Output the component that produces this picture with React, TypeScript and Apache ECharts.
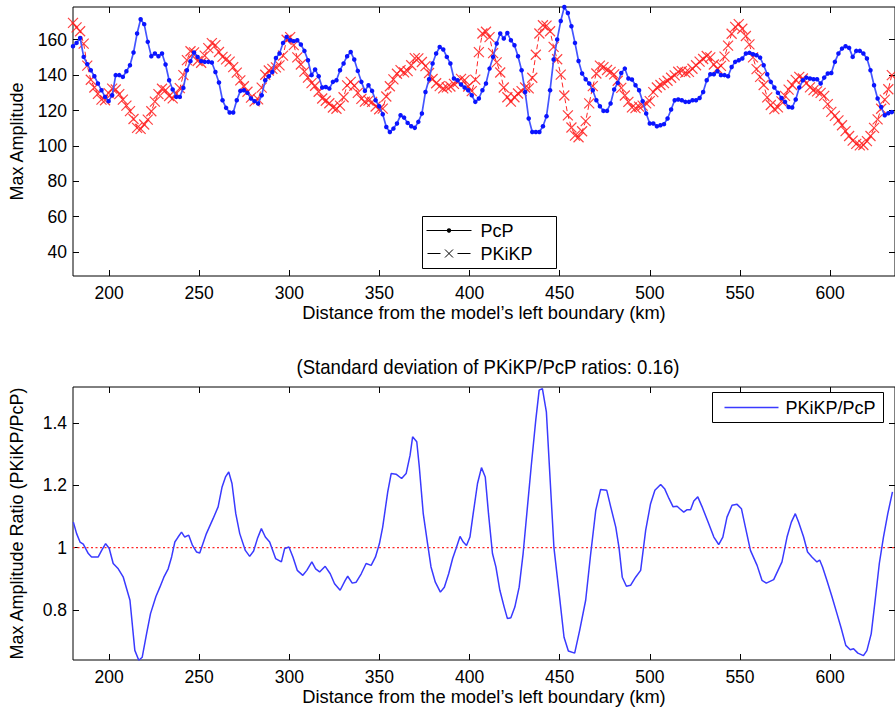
import React, { useEffect, useRef } from "react";
import * as echarts from "echarts";

// Sampling grid of the two traces (km from the model's left boundary)
const KM_START = 180;
const KM_STEP = 1.975;

// PcP maximum amplitude (blue, dots)
const PCP = [
  156.3, 158.2, 161.0, 150.3, 146.2, 142.8, 139.4, 135.3, 131.5, 127.7,
  125.3, 128.6, 140.0, 140.0, 139.0, 142.2, 145.6, 152.8, 163.5, 171.6,
  168.8, 158.8, 150.7, 152.2, 150.7, 152.2, 146.0, 137.1, 131.9, 127.7,
  127.7, 132.8, 142.8, 147.9, 152.8, 150.3, 147.9, 147.5, 147.5, 147.1,
  141.8, 135.8, 125.8, 121.5, 118.9, 118.9, 125.8, 131.1, 131.5, 130.0,
  126.8, 125.3, 124.0, 128.6, 137.1, 139.4, 141.8, 149.7, 152.2,
  158.2, 161.6, 159.7, 159.2, 159.7, 157.3, 153.7, 148.4, 140.0, 143.2,
  139.4, 133.0, 133.3, 132.4, 136.2, 137.1, 142.8, 146.6, 150.7, 153.1,
  148.8, 142.4, 136.2, 131.1, 134.3, 131.1, 125.8, 122.4, 117.9, 110.7,
  107.9, 109.8, 112.7, 117.3, 116.0, 113.0, 111.1, 110.2, 113.6, 118.3,
  130.5, 137.7, 146.6, 152.2, 155.9, 154.5, 150.3, 146.6, 138.1, 137.1,
  134.7, 133.0, 131.5, 128.6, 124.9, 126.8, 131.5, 135.3,
  143.7, 150.3, 157.9, 163.5, 160.7, 163.8, 159.7, 156.9, 150.7, 142.8,
  130.5, 115.5, 107.9, 107.9, 107.9, 111.1, 116.8, 131.5, 148.8, 160.1,
  170.6, 178.5, 175.1, 167.6, 158.2, 148.0, 140.9, 137.7, 135.3, 131.5,
  125.8, 122.4, 119.8, 119.8, 124.0, 131.9, 135.6, 141.2, 143.7, 138.1,
  137.5, 134.3, 131.5, 125.3, 118.3, 112.7, 112.7, 111.1, 111.7, 112.3,
  115.5, 120.6, 125.8, 126.2, 125.8, 124.9,
  124.9, 125.8, 125.8, 127.1, 130.5, 137.1, 140.5, 140.5, 142.2, 140.0,
  140.0, 139.4, 144.6, 147.5, 148.4, 149.4, 152.2, 152.6, 151.8, 151.2,
  149.9, 145.6, 140.5, 136.2, 133.0, 130.0, 127.1, 124.9, 122.0, 121.7,
  126.2, 133.0, 137.1, 138.6, 138.1, 137.7, 137.7, 135.3, 138.6, 140.9,
  141.2, 147.5, 152.2, 155.0, 156.3, 155.4, 150.3, 153.7, 153.7, 152.2,
  149.4, 142.8, 134.3, 126.8, 122.0, 117.3, 118.5, 119.1,
];

// PKiKP maximum amplitude (red, crosses)
const PKIKP = [
  169.5, 167.0, 164.8, 157.8, 145.4, 137.4, 133.0, 129.4, 126.2, 125.8,
  129.8, 132.4, 131.9, 129.3, 126.2, 122.8, 119.7, 115.2, 110.2, 109.6,
  112.1, 114.9, 119.6, 125.0, 129.3, 132.3, 131.5, 128.2, 126.9, 129.6,
  132.7, 140.0, 148.5, 153.5, 152.9, 148.0, 147.0, 151.0, 155.3, 158.1,
  157.0, 153.1, 150.3, 148.9, 147.6, 144.5, 141.4, 137.0, 133.7, 130.6,
  127.3, 125.2, 126.3, 132.9, 140.2, 142.6, 143.5, 144.4, 145.5,
  151.0, 160.0, 161.5, 157.0, 150.0, 146.0, 142.0, 138.6, 135.5, 134.0,
  130.6, 126.8, 125.5, 124.1, 121.7, 121.0, 122.8, 127.5, 134.2, 136.2,
  134.0, 130.0, 126.6, 125.0, 125.6, 124.9, 122.3, 120.7, 121.1, 127.9,
  133.7, 137.6, 140.8, 142.8, 141.6, 142.3, 145.6, 149.6, 149.5, 147.4,
  145.1, 141.2, 137.8, 135.4, 133.8, 132.5, 133.1, 133.6, 135.1, 136.1,
  137.9, 137.2, 133.6, 131.0, 137.5, 153.0, 163.5, 164.5,
  161.5, 152.4, 147.2, 141.5, 133.0, 127.5, 125.0, 127.5, 129.6, 131.0,
  133.0, 132.5, 138.5, 151.5, 163.5, 168.2, 168.0, 164.8, 156.0, 149.0,
  140.3, 128.5, 117.3, 110.4, 105.8, 104.9, 108.3, 114.0, 124.0, 133.8,
  140.9, 145.4, 144.5, 142.9, 141.8, 140.4, 136.8, 132.8, 128.5, 124.9,
  121.8, 121.4, 122.2, 122.8, 124.0, 125.3, 130.4, 133.0, 134.4, 135.5,
  136.8, 138.5, 139.9, 141.9, 142.3, 141.4,
  141.8, 143.6, 145.6, 147.6, 149.1, 150.8, 150.0, 146.0, 143.6, 145.2,
  150.5, 156.7, 163.4, 167.3, 168.8, 166.2, 162.1, 157.4, 150.0, 143.4,
  139.0, 134.4, 127.4, 123.1, 120.8, 121.8, 125.2, 128.3, 131.8, 134.4,
  137.3, 139.0, 138.1, 135.5, 133.1, 131.5, 130.8, 130.0, 128.3, 123.6,
  119.2, 117.0, 114.4, 111.7, 108.4, 105.6, 103.0, 101.2, 100.3, 100.5,
  102.7, 105.6, 110.2, 115.0, 121.0, 126.2, 132.0, 140.0,
];

// PKiKP/PcP ratio
const RATIO_KM = [
  180.2, 182, 183.9, 185.7, 188.5, 190.3, 194, 195.9, 198.1, 200.1,
  202.3, 205.1, 207.9, 211.6, 214.3, 216.5, 218.4, 220.8, 223, 226,
  228.2, 230.4, 232.8, 234.7, 236.5, 238.3, 240.2, 242, 244.2, 246.3,
  248.5, 250.3, 254, 257.7, 260.5, 262.7, 264.6, 266.4, 268.2, 270.3,
  272.5, 275.6, 278, 280.2, 282.3, 284.5, 286.7, 289.1, 292.4, 295.6,
  297.4, 299.8, 302, 304.4, 307.5, 309.7, 312.5, 314.6, 316.8, 319.9,
  322.7, 325.1, 328.2, 331, 332.4, 334.9, 337.1, 339.9, 342.6, 345.4,
  347.8, 350, 351.8, 354.6, 356.5, 359.2, 362.3, 364.8, 367, 368.4,
  370.7, 372.1, 374.3, 376.7, 378.6, 381, 383.8, 386, 388.4, 390.6,
  392.5, 394.7, 396.5, 398.3, 400.2, 402, 404.4, 406.6, 408.7, 410.5,
  412.7, 414.6, 416.8, 419.2, 421, 422.9, 425.1, 427.5, 429.7, 432.1,
  434.3, 436.7, 438.6, 440.4, 442.6, 444.5, 446.8, 449.7, 452.4, 454.8,
  458.3, 461.1, 464.4, 467.2, 470, 472.7, 476.1, 478.3, 481.1, 482.9,
  484.7, 487, 489.3, 492.1, 494.9, 497.7, 500.4, 502.8, 506, 508.3,
  510.6, 512.9, 515.1, 516.6, 518.8, 520.7, 522.6, 524.4, 526.6, 529,
  532.3, 535.5, 538.2, 540.5, 542.8, 545.6, 548.4, 550.8, 553, 555.8,
  559.5, 562.2, 564.6, 568.7, 571.1, 573.3, 576.1, 578.5, 580.7, 582.5,
  585.3, 587.5, 589.9, 592.7, 594.2, 595.8, 598.2, 601, 603.8, 606.2,
  608.7, 611.2, 613, 615.4, 618.5, 620.4, 622.8, 625, 627.3, 629.6,
  632, 634.6,
];
const RATIO = [
  1.082, 1.045, 1.018, 1.011, 0.981, 0.97, 0.97, 0.991, 1.013, 0.997,
  0.949, 0.932, 0.905, 0.831, 0.67, 0.638, 0.648, 0.723, 0.788, 0.843,
  0.873, 0.905, 0.932, 0.97, 1.018, 1.034, 1.05, 1.034, 1.04, 1.007,
  0.986, 0.983, 1.045, 1.093, 1.131, 1.195, 1.227, 1.243, 1.206, 1.109,
  1.045, 0.991, 0.972, 0.989, 1.029, 1.061, 1.034, 1.018, 0.965, 0.954,
  0.997, 1.002, 0.97, 0.927, 0.911, 0.927, 0.954, 0.932, 0.922, 0.94,
  0.916, 0.884, 0.863, 0.895, 0.908, 0.886, 0.889, 0.916, 0.949, 0.943,
  0.97, 1.013, 1.066, 1.179, 1.238, 1.236, 1.222, 1.238, 1.297, 1.356,
  1.34, 1.26, 1.109, 1.013, 0.938, 0.889, 0.857, 0.873, 0.916, 0.965,
  0.997, 1.036, 1.018, 1.007, 1.034, 1.109, 1.206, 1.257, 1.227, 1.109,
  0.981, 0.938, 0.863, 0.809, 0.772, 0.775, 0.809, 0.873, 0.981, 1.131,
  1.268, 1.409, 1.506, 1.511, 1.436, 1.238, 1.0, 0.852, 0.712, 0.668,
  0.661, 0.735, 0.831, 0.981, 1.12, 1.187, 1.184, 1.131, 1.066, 1.0,
  0.905, 0.876, 0.879, 0.905, 0.927, 1.056, 1.141, 1.184, 1.203, 1.188,
  1.158, 1.131, 1.133, 1.125, 1.114, 1.122, 1.122, 1.15, 1.163, 1.131,
  1.082, 1.034, 1.01, 1.034, 1.098, 1.136, 1.139, 1.125, 1.066, 0.991,
  0.943, 0.895, 0.886, 0.897, 0.927, 0.954, 1.034, 1.082, 1.109, 1.082,
  1.034, 0.986, 0.97, 0.954, 0.96, 0.938, 0.895, 0.843, 0.788, 0.74,
  0.686, 0.672, 0.675, 0.661, 0.653, 0.669, 0.723, 0.831, 0.949, 1.034,
  1.109, 1.179,
];

const X_TICKS = [200, 250, 300, 350, 400, 450, 500, 550, 600];
const AMP_TICKS = [40, 60, 80, 100, 120, 140, 160];
const RATIO_TICKS = [0.8, 1, 1.2, 1.4];
const REFERENCE_RATIO = 1;
const X_RANGE = [180, 636];

const X_NAME = "Distance from the model\u2019s left boundary (km)";
const FONT = "'Liberation Sans', Arial, Helvetica, sans-serif";

export default function App() {
  const ref = useRef<HTMLDivElement>(null);

  useEffect(() => {
    if (!ref.current) return;
    const chart = echarts.init(ref.current, undefined, { renderer: "svg" });

    const km = PCP.map((_, i) => +(KM_START + i * KM_STEP).toFixed(3));
    const pcpData = PCP.map((v, i) => [km[i], v]);
    const pkikpData = PKIKP.map((v, i) => [km[i], v]);
    const ratioData = RATIO.map((v, i) => [RATIO_KM[i], v]);
    const refData = X_RANGE.map((x) => [x, REFERENCE_RATIO]);

    const tickStyle = { color: "#000", width: 1 };
    const labelBase = { color: "#000", fontSize: 17.5, fontFamily: FONT };

    const xAxisFor = (gridIndex: number, withLabels: boolean) => ({
      type: "value",
      gridIndex,
      min: X_RANGE[0],
      max: X_RANGE[1],
      position: withLabels ? "bottom" : "top",
      axisLine: { show: false },
      axisTick: {
        show: true,
        inside: true,
        length: 6,
        customValues: X_TICKS,
        lineStyle: tickStyle,
      },
      axisLabel: withLabels
        ? { ...labelBase, customValues: X_TICKS, margin: 8 }
        : { show: false },
      splitLine: { show: false },
      name: withLabels ? X_NAME : "",
      nameLocation: "middle",
      nameGap: 27,
      nameTextStyle: { color: "#000", fontSize: 18.3, fontFamily: FONT },
    });

    const yAxisFor = (
      gridIndex: number,
      min: number,
      max: number,
      ticks: number[],
      withLabels: boolean,
      name: string,
      nameGap: number
    ) => ({
      type: "value",
      gridIndex,
      min,
      max,
      position: withLabels ? "left" : "right",
      axisLine: { show: false },
      axisTick: {
        show: true,
        inside: true,
        length: 6,
        customValues: ticks,
        lineStyle: tickStyle,
      },
      axisLabel: withLabels
        ? { ...labelBase, customValues: ticks, margin: 6 }
        : { show: false },
      splitLine: { show: false },
      name: withLabels ? name : "",
      nameLocation: "middle",
      nameRotate: 90,
      nameGap,
      nameTextStyle: { color: "#000", fontSize: 18, fontFamily: FONT },
    });

    const crossPath = "path://M0,0L10,10M10,0L0,10";

    chart.setOption({
      animation: false,
      backgroundColor: "#fff",
      grid: [
        {
          left: 73,
          top: 7,
          width: 823,
          height: 269,
          show: true,
          borderColor: "#000",
          borderWidth: 1,
          backgroundColor: "transparent",
        },
        {
          left: 73,
          top: 387,
          width: 823,
          height: 273,
          show: true,
          borderColor: "#000",
          borderWidth: 1,
          backgroundColor: "transparent",
        },
      ],
      xAxis: [
        xAxisFor(0, true),
        xAxisFor(0, false),
        xAxisFor(1, true),
        xAxisFor(1, false),
      ],
      yAxis: [
        yAxisFor(0, 26.5, 178.5, AMP_TICKS, true, "Max Amplitude", 47),
        yAxisFor(0, 26.5, 178.5, AMP_TICKS, false, "", 0),
        yAxisFor(1, 0.639, 1.516, RATIO_TICKS, true, "Max Amplitude Ratio (PKiKP/PcP)", 47),
        yAxisFor(1, 0.639, 1.516, RATIO_TICKS, false, "", 0),
      ],
      series: [
        {
          name: "PKiKP",
          type: "line",
          xAxisIndex: 0,
          yAxisIndex: 0,
          data: pkikpData,
          symbol: crossPath,
          symbolSize: 10,
          showAllSymbol: true,
          lineStyle: { color: "rgba(255,0,0,0.85)", width: 1, type: [5, 3] },
          itemStyle: {
            color: "rgba(255,0,0,0)",
            borderColor: "rgba(255,30,30,0.85)",
            borderWidth: 1.2,
          },
          z: 2,
        },
        {
          name: "PcP",
          type: "line",
          xAxisIndex: 0,
          yAxisIndex: 0,
          data: pcpData,
          symbol: "circle",
          symbolSize: 4.5,
          showAllSymbol: true,
          lineStyle: { color: "#4455ff", width: 1.7 },
          itemStyle: { color: "#0a14ff", borderWidth: 0 },
          z: 3,
        },
        {
          name: "ratio = 1",
          type: "line",
          xAxisIndex: 2,
          yAxisIndex: 2,
          data: refData,
          symbol: "none",
          silent: true,
          lineStyle: { color: "#ff2a2a", width: 1.2, type: [2, 2.5] },
          z: 2,
        },
        {
          name: "PKiKP/PcP",
          type: "line",
          xAxisIndex: 2,
          yAxisIndex: 2,
          data: ratioData,
          symbol: "none",
          lineStyle: { color: "#3a3aff", width: 1.5 },
          z: 3,
        },
      ],
      graphic: [
        {
          type: "text",
          x: 488,
          y: 367,
          scaleX: 0.93,
          originX: 0,
          style: {
            text: "(Standard deviation of PKiKP/PcP ratios: 0.16)",
            fill: "#000",
            font: "20px 'Liberation Sans Narrow', 'Liberation Sans', Arial, sans-serif",
            textAlign: "center",
            textVerticalAlign: "middle",
          },
        },
        // Top legend
        {
          type: "group",
          left: 422,
          top: 216,
          children: [
            {
              type: "rect",
              shape: { x: 0, y: 0, width: 134, height: 52 },
              style: { fill: "#fff", stroke: "#000", lineWidth: 1 },
            },
            {
              type: "line",
              shape: { x1: 4, y1: 14, x2: 49, y2: 14 },
              style: { stroke: "#000", lineWidth: 1 },
            },
            {
              type: "circle",
              shape: { cx: 26.5, cy: 14, r: 2.2 },
              style: { fill: "#000" },
            },
            {
              type: "text",
              x: 58,
              y: 14,
              style: {
                text: "PcP",
                fill: "#000",
                font: "18px " + FONT,
                textVerticalAlign: "middle",
              },
            },
            {
              type: "line",
              shape: { x1: 5, y1: 37, x2: 18, y2: 37 },
              style: { stroke: "#000", lineWidth: 1 },
            },
            {
              type: "line",
              shape: { x1: 35, y1: 37, x2: 48, y2: 37 },
              style: { stroke: "#000", lineWidth: 1 },
            },
            {
              type: "line",
              shape: { x1: 22.5, y1: 33, x2: 30.5, y2: 41 },
              style: { stroke: "#000", lineWidth: 1 },
            },
            {
              type: "line",
              shape: { x1: 30.5, y1: 33, x2: 22.5, y2: 41 },
              style: { stroke: "#000", lineWidth: 1 },
            },
            {
              type: "text",
              x: 58,
              y: 37,
              style: {
                text: "PKiKP",
                fill: "#000",
                font: "18px " + FONT,
                textVerticalAlign: "middle",
              },
            },
          ],
        },
        // Bottom legend
        {
          type: "group",
          left: 712,
          top: 392,
          children: [
            {
              type: "rect",
              shape: { x: 0, y: 0, width: 171, height: 30 },
              style: { fill: "#fff", stroke: "#000", lineWidth: 1 },
            },
            {
              type: "line",
              shape: { x1: 12, y1: 15, x2: 66, y2: 15 },
              style: { stroke: "#3a3aff", lineWidth: 1.5 },
            },
            {
              type: "text",
              x: 73,
              y: 15,
              style: {
                text: "PKiKP/PcP",
                fill: "#000",
                font: "18px " + FONT,
                textVerticalAlign: "middle",
              },
            },
          ],
        },
      ],
    });

    return () => chart.dispose();
  }, []);

  return (
    <div
      ref={ref}
      style={{
        position: "fixed",
        left: 0,
        top: 0,
        width: 895,
        height: 712,
        background: "#fff",
      }}
    />
  );
}
